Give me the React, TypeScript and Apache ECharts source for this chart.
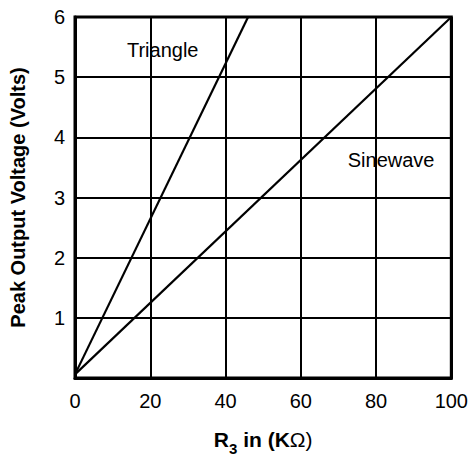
import React, { useEffect, useRef } from "react";
import * as echarts from "echarts";

const xTickValues = [0, 20, 40, 60, 80, 100];
const yTickValues = [0, 1, 2, 3, 4, 5, 6];
const triangleX = [0, 46];
const triangleY = [0.06, 6];
const sineX = [0, 100];
const sineY = [0.06, 6];
const triangleLabelAt = [23.3, 5.45];
const sineLabelAt = [84, 3.62];

const FONT = "'Liberation Sans', Arial, Helvetica, sans-serif";

export default function App() {
  const ref = useRef<HTMLDivElement>(null);
  useEffect(() => {
    document.body.style.margin = "0";
    const chart = echarts.init(ref.current!, null, { renderer: "svg" });
    const pairs = (xs: number[], ys: number[]) => xs.map((x, i) => [x, ys[i]]);
    const lineStyle = { color: "#000", width: 2.2 };
    const annot = (name: string, at: number[]) => ({
      symbol: "circle",
      symbolSize: 0,
      data: [
        {
          coord: at,
          label: {
            show: true,
            position: "inside",
            formatter: name,
            color: "#000",
            fontSize: 20,
            fontFamily: FONT,
          },
        },
      ],
    });
    chart.setOption({
      animation: false,
      grid: {
        left: 73,
        right: 19,
        top: 17,
        bottom: 68,
        show: true,
        borderColor: "#000",
        borderWidth: 3,
        backgroundColor: "transparent",
      },
      xAxis: {
        type: "value",
        min: xTickValues[0],
        max: xTickValues[xTickValues.length - 1],
        interval: 20,
        name: "{b|R}{s|3}{b| in (K}{r|Ω)}",
        nameLocation: "middle",
        nameGap: 48,
        nameTextStyle: {
          rich: {
            b: { fontSize: 21, fontWeight: "bold", fontFamily: FONT, color: "#000", lineHeight: 24, verticalAlign: "bottom" },
            s: { fontSize: 15, fontWeight: "bold", fontFamily: FONT, color: "#000", lineHeight: 24, verticalAlign: "bottom", padding: [0, 0, -6, 0] },
            r: { fontSize: 21, fontWeight: "normal", fontFamily: FONT, color: "#000", lineHeight: 24, verticalAlign: "bottom" },
          },
        },
        axisLine: { show: true, lineStyle: { color: "#000", width: 3 } },
        axisTick: { show: false },
        axisLabel: { color: "#000", fontSize: 20, fontFamily: FONT, margin: 13 },
        splitLine: { show: true, lineStyle: { color: "#000", width: 2 } },
      },
      yAxis: {
        type: "value",
        min: yTickValues[0],
        max: yTickValues[yTickValues.length - 1],
        interval: 1,
        name: "Peak Output Voltage (Volts)",
        nameLocation: "middle",
        nameGap: 47,
        nameTextStyle: { fontSize: 20, fontWeight: "bold", fontFamily: FONT, color: "#000" },
        axisLine: { show: true, lineStyle: { color: "#000", width: 3 } },
        axisTick: { show: false },
        axisLabel: {
          color: "#000",
          fontSize: 20,
          fontFamily: FONT,
          margin: 10,
          formatter: (v: number) => (v === 0 ? "" : String(v)),
        },
        splitLine: { show: true, lineStyle: { color: "#000", width: 2 } },
      },
      series: [
        {
          name: "Triangle",
          type: "line",
          data: pairs(triangleX, triangleY),
          showSymbol: false,
          lineStyle,
          markPoint: annot("Triangle", triangleLabelAt),
        },
        {
          name: "Sinewave",
          type: "line",
          data: pairs(sineX, sineY),
          showSymbol: false,
          lineStyle,
          markPoint: annot("Sinewave", sineLabelAt),
        },
      ],
    });
    return () => chart.dispose();
  }, []);
  return <div ref={ref} style={{ width: 471, height: 461 }} />;
}
